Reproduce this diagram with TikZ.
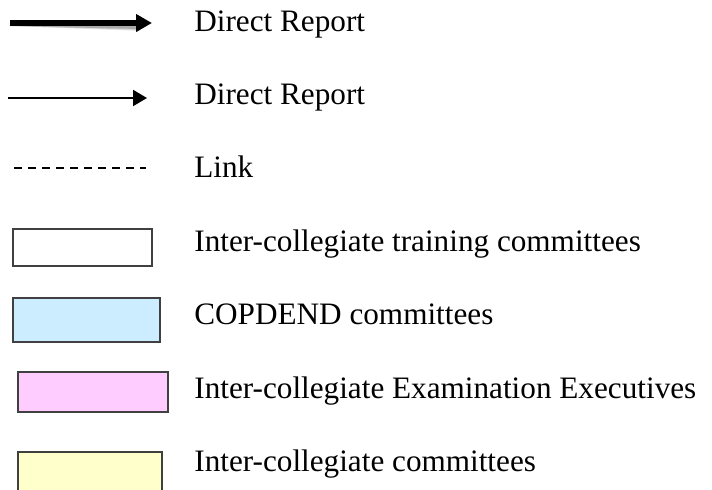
\documentclass[tikz,border=0pt]{standalone}
\usepackage{fontspec}
\setmainfont{Liberation Serif}
\usetikzlibrary{arrows.meta}

\definecolor{copdend}{HTML}{CCECFF}
\definecolor{examexec}{HTML}{FFCCFF}
\definecolor{intercol}{HTML}{FFFFCC}
\definecolor{boxline}{HTML}{404040}

\tikzset{
    lbl/.style={anchor=base west, inner sep=0pt, font=\fontsize{15.6}{18}\selectfont},
    legendbox/.style={draw=boxline, line width=.75pt},
}

\begin{document}
\begin{tikzpicture}[x=.5pt, y=-.5pt]
\clip (0,0) rectangle (712,489);

% arrows and link
\coordinate (thickA) at (10,23);
\coordinate (thickB) at (152,23);
\coordinate (thinA) at (8,98);
\coordinate (thinB) at (147,98);
\coordinate (linkA) at (14,168);
\coordinate (linkB) at (146,168);

\foreach \s/\o in {5/.08, 4/.12, 3/.18}
{
    \draw[line width=3pt, black, opacity=\o, shift={(0,\s)}] (thickA)--(140,23);
}
\draw[line width=3pt, -{Triangle[length=8pt, width=8.5pt]}] (thickA)--(thickB);
\draw[line width=1pt, -{Triangle[length=7pt, width=8pt]}] (thinA)--(thinB);
\draw[line width=1pt, dash pattern=on 4pt off 3pt] (linkA)--(linkB);

% boxes
\draw[legendbox] (13,229) rectangle (152,266);
\draw[legendbox, fill=copdend] (13,298) rectangle (160,342);
\draw[legendbox, fill=examexec] (18,372) rectangle (168,412);
\draw[legendbox, fill=intercol] (18,452) rectangle (162,500);

% labels
\node[lbl] (direct) at (194,31) {Direct Report};
\node[lbl] (report) at (194,104) {Direct Report};
\node[lbl] (link) at (194,177) {Link};
\node[lbl] (training) at (194,251) {Inter-collegiate training committees};
\node[lbl] (copd) at (194,324) {COPDEND committees};
\node[lbl] (exam) at (194,398) {Inter-collegiate Examination Executives};
\node[lbl] (inter) at (194,471) {Inter-collegiate committees};

\end{tikzpicture}
\end{document}
